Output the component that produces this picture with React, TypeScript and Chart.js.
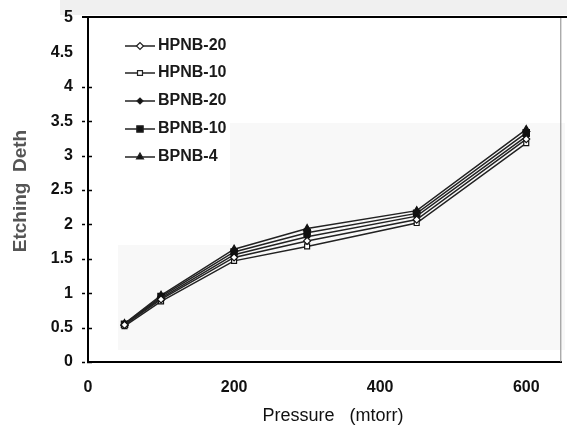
import React, { useEffect, useRef } from "react";
import { Chart, registerables } from "chart.js";
import { drawPoint } from "chart.js/helpers";
Chart.register(...registerables);

const pressures = [50, 100, 200, 300, 450, 600];
const seriesNames = ["HPNB-20", "HPNB-10", "BPNB-20", "BPNB-10", "BPNB-4"];
const hpnb20 = [0.54, 0.91, 1.52, 1.76, 2.07, 3.24];
const hpnb10 = [0.52, 0.88, 1.47, 1.68, 2.02, 3.18];
const bpnb20 = [0.55, 0.93, 1.56, 1.82, 2.12, 3.28];
const bpnb10 = [0.55, 0.95, 1.6, 1.88, 2.16, 3.33];
const bpnb4 = [0.56, 0.97, 1.64, 1.94, 2.2, 3.38];
const xTicks = [0, 200, 400, 600];
const yTicks = [0, 0.5, 1, 1.5, 2, 2.5, 3, 3.5, 4, 4.5, 5];
const xTitle = "Pressure   (mtorr)";
const yTitle = "Etching  Deth";

const seriesValues = [hpnb20, hpnb10, bpnb20, bpnb10, bpnb4];
const markerStyles = [
  { pointStyle: "rectRot", radius: 3.5, fill: "#ffffff" },
  { pointStyle: "rect", radius: 3.5, fill: "#ffffff" },
  { pointStyle: "rectRot", radius: 3, fill: "#111111" },
  { pointStyle: "rect", radius: 4.5, fill: "#111111" },
  { pointStyle: "triangle", radius: 4, fill: "#111111" },
];

const FONT = "Arial, 'Liberation Sans', sans-serif";

const decorPlugin = {
  id: "decor",
  beforeDraw(chart: any) {
    const ctx = chart.ctx;
    ctx.save();
    ctx.fillStyle = "#ffffff";
    ctx.fillRect(0, 0, chart.width, chart.height);
    ctx.fillStyle = "#f0f0f0";
    ctx.fillRect(60, 0, 507, 15);
    ctx.fillStyle = "#f8f8f8";
    ctx.fillRect(230, 123, 335, 125);
    ctx.fillRect(118, 245, 447, 105);
    ctx.restore();
  },
  afterDraw(chart: any) {
    const ctx = chart.ctx;
    const ca = chart.chartArea;
    const ys = chart.scales.y;
    ctx.save();
    // frame
    ctx.strokeStyle = "#000";
    ctx.lineWidth = 2;
    ctx.beginPath();
    ctx.moveTo(82, ca.top - 1);
    ctx.lineTo(567, ca.top - 1);
    ctx.stroke();
    ctx.strokeStyle = "#888";
    ctx.lineWidth = 1;
    ctx.beginPath();
    ctx.moveTo(ca.right - 0.5, ca.top);
    ctx.lineTo(ca.right - 0.5, ca.bottom);
    ctx.stroke();
    // y tick marks
    ctx.strokeStyle = "#000";
    ctx.lineWidth = 1.5;
    yTicks.forEach((v) => {
      if (v > 4.01) return;
      const y = Math.round(ys.getPixelForValue(v)) + 0.5;
      ctx.beginPath();
      ctx.moveTo(ca.left - 6, y);
      ctx.lineTo(ca.left - 3, y);
      ctx.moveTo(ca.left - 1, y);
      ctx.lineTo(ca.left + 4, y);
      ctx.stroke();
    });
    // legend
    const rows = [46, 73, 101, 129, 157];
    chart.data.datasets.forEach((ds: any, i: number) => {
      const y = rows[i];
      ctx.strokeStyle = "#222";
      ctx.lineWidth = 1.5;
      ctx.beginPath();
      ctx.moveTo(125, y);
      ctx.lineTo(155, y);
      ctx.stroke();
      ctx.fillStyle = markerStyles[i].fill;
      ctx.strokeStyle = "#222";
      ctx.lineWidth = 1.2;
      drawPoint(ctx, { pointStyle: markerStyles[i].pointStyle, radius: markerStyles[i].radius, rotation: 0, borderWidth: 1.2 } as any, 140, y);
      ctx.fillStyle = "#1a1a1a";
      ctx.font = "bold 16px " + FONT;
      ctx.textAlign = "left";
      ctx.textBaseline = "middle";
      ctx.fillText(ds.label, 158, y);
    });
    // axis titles
    ctx.fillStyle = "#111";
    ctx.font = "18px " + FONT;
    ctx.textAlign = "center";
    ctx.textBaseline = "middle";
    ctx.fillText(xTitle, 333, 416);
    ctx.save();
    ctx.translate(21, 191);
    ctx.rotate(-Math.PI / 2);
    ctx.fillStyle = "#555";
    ctx.font = "bold 19px " + FONT;
    ctx.fillText(yTitle, 0, 0);
    ctx.restore();
    ctx.restore();
  },
};

export default function App() {
  const ref = useRef<HTMLCanvasElement | null>(null);
  useEffect(() => {
    if (!ref.current) return;
    const chart = new Chart(ref.current, {
      type: "line",
      data: {
        datasets: seriesNames.map((name, i) => ({
          label: name,
          data: pressures.map((p, j) => ({ x: p, y: seriesValues[i][j] })),
          borderColor: "#222",
          borderWidth: 1.5,
          pointStyle: markerStyles[i].pointStyle as any,
          pointRadius: markerStyles[i].radius,
          pointBackgroundColor: markerStyles[i].fill,
          pointBorderColor: "#111",
          pointBorderWidth: 1.2,
          fill: false,
          tension: 0,
        })),
      },
      options: {
        animation: false,
        responsive: false,
        devicePixelRatio: 1,
        layout: { padding: { top: 18, right: 2, left: 0, bottom: 0 } },
        plugins: { legend: { display: false }, tooltip: { enabled: false } },
        scales: {
          x: {
            type: "linear",
            min: 0,
            max: 648,
            afterBuildTicks: (s: any) => {
              s.ticks = xTicks.map((v) => ({ value: v }));
            },
            afterFit: (s: any) => {
              s.height = 71;
              s.paddingLeft = 0;
              s.paddingRight = 0;
              s.paddingTop = 0;
              s.paddingBottom = 0;
            },
            grid: { display: false, drawTicks: false },
            border: { display: true, color: "#000", width: 2 },
            ticks: {
              padding: 16,
              color: "#111",
              font: { family: FONT, size: 16, weight: "bold" },
              maxRotation: 0,
              callback: (v: any) => String(v),
            },
          },
          y: {
            type: "linear",
            min: 0,
            max: 5,
            afterBuildTicks: (s: any) => {
              s.ticks = yTicks.map((v) => ({ value: v }));
            },
            afterFit: (s: any) => {
              s.width = 88;
              s.paddingLeft = 0;
              s.paddingRight = 0;
              s.paddingTop = 0;
              s.paddingBottom = 0;
            },
            grid: { display: false, drawTicks: false },
            border: { display: true, color: "#000", width: 2 },
            ticks: {
              padding: 15,
              color: "#111",
              font: { family: FONT, size: 16, weight: "bold" },
              callback: (v: any) => String(v),
            },
          },
        },
      },
      plugins: [decorPlugin],
    } as any);
    return () => chart.destroy();
  }, []);
  return (
    <div style={{ position: "fixed", left: 0, top: 0, width: 567, height: 433 }}>
      <canvas ref={ref} width={567} height={433} style={{ width: 567, height: 433 }} />
    </div>
  );
}
